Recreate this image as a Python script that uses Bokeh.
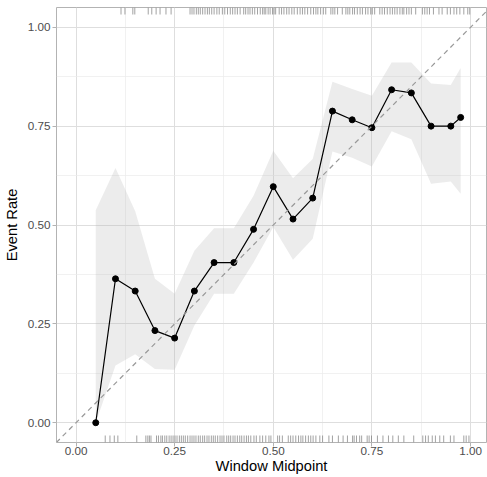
from bokeh.plotting import figure
from bokeh.models import Range1d, FixedTicker, PrintfTickFormatter, Slope, ColumnDataSource
from bokeh.embed import file_html
from bokeh.resources import INLINE

# ---- data ----
midpoints = [0.05, 0.10, 0.15, 0.20, 0.25, 0.30, 0.35, 0.40, 0.45, 0.50,
             0.55, 0.60, 0.65, 0.70, 0.75, 0.80, 0.85, 0.90, 0.95, 0.975]
event_rate = [0.000, 0.364, 0.333, 0.233, 0.214, 0.333, 0.405, 0.405, 0.489, 0.597,
              0.515, 0.568, 0.788, 0.766, 0.746, 0.842, 0.834, 0.750, 0.750, 0.772]
ci_lower = [0.000, 0.145, 0.173, 0.136, 0.134, 0.246, 0.326, 0.326, 0.405, 0.495,
            0.412, 0.465, 0.686, 0.670, 0.648, 0.737, 0.717, 0.604, 0.610, 0.579]
ci_upper = [0.537, 0.644, 0.535, 0.364, 0.326, 0.435, 0.492, 0.492, 0.574, 0.688,
            0.618, 0.667, 0.862, 0.844, 0.827, 0.911, 0.911, 0.858, 0.854, 0.897]

# predicted values of observations with event = 1 (top rug)
rug_events = [0.114, 0.124, 0.144, 0.149, 0.183, 0.192, 0.203, 0.213, 0.228, 0.241,
              0.289, 0.294, 0.299, 0.305, 0.310, 0.315, 0.321, 0.327, 0.333, 0.338,
              0.344, 0.350, 0.357, 0.363, 0.371, 0.377, 0.384, 0.391, 0.397, 0.403,
              0.409, 0.416, 0.425, 0.430, 0.436, 0.441, 0.447, 0.453, 0.460, 0.467,
              0.473, 0.477, 0.481, 0.487, 0.492, 0.498, 0.502, 0.506, 0.515, 0.521,
              0.527, 0.534, 0.540, 0.547, 0.553, 0.561, 0.568, 0.574, 0.580, 0.587,
              0.595, 0.602, 0.608, 0.613, 0.620, 0.627, 0.633, 0.646, 0.651, 0.656,
              0.663, 0.675, 0.684, 0.689, 0.694, 0.701, 0.706, 0.713, 0.720, 0.726,
              0.734, 0.740, 0.747, 0.751, 0.757, 0.770, 0.776, 0.782, 0.789, 0.796,
              0.802, 0.808, 0.814, 0.821, 0.827, 0.831, 0.838, 0.844, 0.850, 0.861,
              0.878, 0.884, 0.890, 0.896, 0.906, 0.920, 0.928, 0.941, 0.949, 0.958,
              0.965, 0.973, 0.983, 0.993, 0.998]

# predicted values of observations with event = 0 (bottom rug)
rug_nonevents = [0.074, 0.086, 0.097, 0.106, 0.154, 0.177, 0.182, 0.186, 0.190, 0.204,
                 0.209, 0.215, 0.219, 0.225, 0.230, 0.236, 0.241, 0.246, 0.251, 0.256,
                 0.262, 0.267, 0.272, 0.277, 0.283, 0.289, 0.294, 0.299, 0.304, 0.310,
                 0.315, 0.321, 0.326, 0.332, 0.337, 0.343, 0.348, 0.353, 0.359, 0.365,
                 0.370, 0.375, 0.382, 0.387, 0.392, 0.398, 0.403, 0.409, 0.415, 0.420,
                 0.426, 0.432, 0.437, 0.443, 0.451, 0.457, 0.466, 0.473, 0.481, 0.489,
                 0.494, 0.511, 0.516, 0.523, 0.538, 0.544, 0.550, 0.557, 0.564, 0.570,
                 0.575, 0.582, 0.589, 0.595, 0.601, 0.608, 0.618, 0.625, 0.641, 0.650,
                 0.665, 0.677, 0.688, 0.701, 0.705, 0.711, 0.719, 0.724, 0.738, 0.743,
                 0.749, 0.764, 0.778, 0.792, 0.803, 0.817, 0.831, 0.856, 0.879, 0.886,
                 0.893, 0.903, 0.911, 0.922, 0.932, 0.949, 0.958, 0.983, 0.989, 0.996]

y_ticks = [0.0, 0.25, 0.5, 0.75, 1.0]
y_minor = [0.125, 0.375, 0.625, 0.875]
x_ticks = [0.0, 0.25, 0.5, 0.75, 1.0]
x_minor = [0.125, 0.375, 0.625, 0.875]

# ---- figure ----
X0, X1 = -0.0495, 1.0405
Y0, Y1 = -0.05, 1.05
FONT = "Liberation Sans"

p = figure(width=487, height=477, output_backend="svg", toolbar_location=None,
           x_range=Range1d(X0, X1), y_range=Range1d(Y0, Y1),
           min_border_left=55, min_border_right=1, min_border_top=7, min_border_bottom=35,
           background_fill_color="white", border_fill_color="white")
p.outline_line_color = "#b3b3b3"
p.outline_line_width = 1

for ax, ticks, minor in ((p.xaxis[0], x_ticks, x_minor), (p.yaxis[0], y_ticks, y_minor)):
    ax.ticker = FixedTicker(ticks=ticks, minor_ticks=minor)
    ax.formatter = PrintfTickFormatter(format="%.2f")
    ax.axis_line_color = None
    ax.major_tick_line_color = "#b3b3b3"
    ax.major_tick_out = 4
    ax.major_tick_in = 0
    ax.minor_tick_line_color = None
    ax.major_label_text_font = FONT
    ax.major_label_text_font_size = "11.7px"
    ax.major_label_text_color = "#4d4d4d"
    ax.axis_label_text_font = FONT
    ax.axis_label_text_font_size = "14.7px"
    ax.axis_label_text_font_style = "normal"
    ax.axis_label_text_color = "black"

p.xaxis.axis_label = "Window Midpoint"
p.yaxis.axis_label = "Event Rate"
p.xaxis.major_label_standoff = 0
p.xaxis.axis_label_standoff = 0
p.yaxis.major_label_standoff = 2
p.yaxis.axis_label_standoff = 5

for g in (p.xgrid[0], p.ygrid[0]):
    g.grid_line_color = "#dedede"
    g.grid_line_width = 1
    g.minor_grid_line_color = "#ebebeb"
    g.minor_grid_line_width = 0.7

src = ColumnDataSource(dict(x=midpoints, y=event_rate, lo=ci_lower, hi=ci_upper))

# confidence ribbon
p.varea(x="x", y1="lo", y2="hi", source=src, fill_color="#b3b3b3", fill_alpha=0.25)

# reference diagonal
p.add_layout(Slope(gradient=1, y_intercept=0, line_color="#999999",
                   line_dash="5 4", line_width=1.2))

# rugs (length ~7 px at panel edges)
rug_len = (Y1 - Y0) * 7.0 / 435.0
p.segment(x0=rug_events, x1=rug_events, y0=[Y1] * len(rug_events),
          y1=[Y1 - rug_len] * len(rug_events), line_color="#7a7a7a",
          line_alpha=0.7, line_width=1)
p.segment(x0=rug_nonevents, x1=rug_nonevents, y0=[Y0] * len(rug_nonevents),
          y1=[Y0 + rug_len] * len(rug_nonevents), line_color="#7a7a7a",
          line_alpha=0.7, line_width=1)

# observed rates
p.line(x="x", y="y", source=src, line_color="black", line_width=1.2)
p.scatter(x="x", y="y", source=src, size=6, fill_color="black", line_color="black")

open("out.html", "w").write(file_html(p, INLINE))
